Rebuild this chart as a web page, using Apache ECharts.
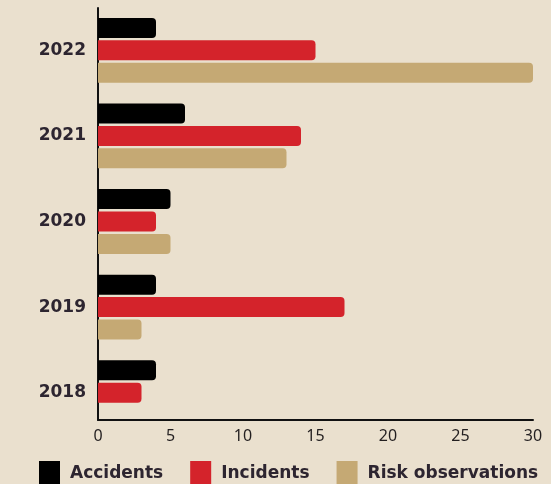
<!DOCTYPE html>
<html>
<head>
<meta charset="utf-8">
<script src="https://cdn.jsdelivr.net/npm/echarts@6/dist/echarts.min.js"></script>
<style>
html,body{margin:0;padding:0;background:#eae0ce;}
#chart{width:551px;height:484px;}
</style>
</head>
<body>
<div id="chart"></div>
<script>
const years = ['2018', '2019', '2020', '2021', '2022'];
const accidents = [4, 4, 5, 6, 4];
const incidents = [3, 17, 4, 14, 15];
const riskObservations = [0, 3, 5, 13, 30];
const xTicksMax = 30;
const xTickStep = 5;

const chart = echarts.init(document.getElementById('chart'), null, {renderer: 'canvas'});
const radius = [0, 4, 4, 0];
const option = {
  backgroundColor: '#eae0ce',
  animation: false,
  legend: {
    left: 39, top: 461, padding: 0,
    itemWidth: 21, itemHeight: 26, itemGap: 27,
    icon: 'rect',
    data: ['Accidents', 'Incidents', 'Risk observations'],
    textStyle: {fontFamily: 'DejaVu Sans', fontWeight: 'bold', fontSize: 17, color: '#2d2530', padding: [0, 0, 0, 5]}
  },
  grid: [
    {left: 98, right: 18, top: 7.5, height: 428, containLabel: false},
    {left: 98, right: 18, top: 8, height: 412, containLabel: false}
  ],
  xAxis: [
    {gridIndex: 0, type: 'value', min: 0, max: xTicksMax, show: false},
    {gridIndex: 1, type: 'value', min: 0, max: xTicksMax, interval: xTickStep,
     axisLine: {show: true, lineStyle: {color: '#111', width: 2}},
     axisTick: {show: false}, splitLine: {show: false},
     axisLabel: {margin: 8, fontFamily: 'Noto Sans', fontSize: 16, color: '#231f20'}}
  ],
  yAxis: [
    {gridIndex: 0, type: 'category', data: years,
     axisLine: {show: false}, axisTick: {show: false},
     axisLabel: {margin: 12, padding: [6, 0, 0, 0], fontFamily: 'DejaVu Sans', fontWeight: 'bold', fontSize: 17, color: '#2d2530'}},
    {gridIndex: 1, type: 'value', min: 0, max: 1,
     axisLine: {show: true, onZero: false, lineStyle: {color: '#111', width: 2}},
     axisTick: {show: false}, axisLabel: {show: false}, splitLine: {show: false}}
  ],
  series: [
    {name: 'Accidents', type: 'bar', xAxisIndex: 0, yAxisIndex: 0, data: accidents,
     barWidth: 20, barGap: '12%', itemStyle: {color: '#000000', borderRadius: radius}},
    {name: 'Incidents', type: 'bar', xAxisIndex: 0, yAxisIndex: 0, data: incidents,
     barWidth: 20, barGap: '12%', itemStyle: {color: '#d4232b', borderRadius: radius}},
    {name: 'Risk observations', type: 'bar', xAxisIndex: 0, yAxisIndex: 0, data: riskObservations,
     barWidth: 20, barGap: '12%', itemStyle: {color: '#c5a974', borderRadius: radius}}
  ]
};
chart.setOption(option);
</script>
</body>
</html>
